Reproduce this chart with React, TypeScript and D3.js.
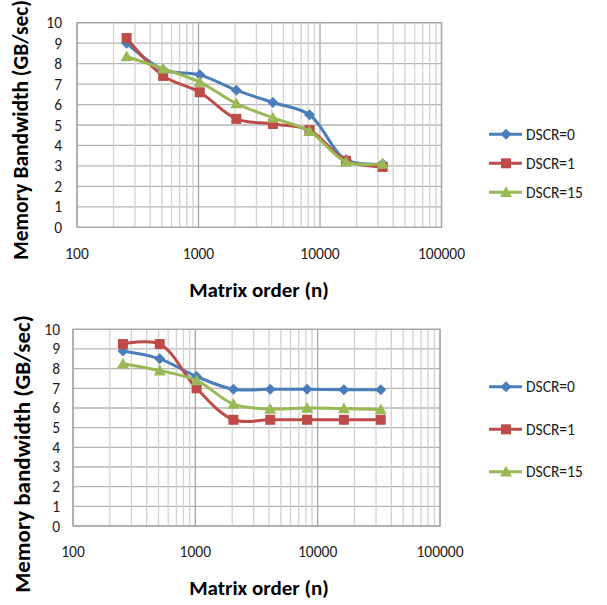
import { useMemo } from "react";
import * as d3 from "d3";

const sizes = [256, 512, 1024, 2048, 4096, 8192, 16384, 32768];
const seriesNames = ["DSCR=0", "DSCR=1", "DSCR=15"];
const colors = ["#4a7ebb", "#be4b48", "#98b954"];
const shapes = ["diamond", "square", "triangle"];

// top chart
const topDscr0 = [9.0, 7.7, 7.45, 6.7, 6.1, 5.5, 3.3, 3.1];
const topDscr1 = [9.25, 7.4, 6.6, 5.3, 5.05, 4.75, 3.25, 2.95];
const topDscr15 = [8.35, 7.75, 7.1, 6.05, 5.35, 4.7, 3.2, 3.1];

// bottom chart
const botDscr0 = [8.9, 8.5, 7.6, 6.95, 6.95, 6.95, 6.93, 6.93];
const botDscr1 = [9.25, 9.25, 7.0, 5.4, 5.4, 5.4, 5.4, 5.4];
const botDscr15 = [8.25, 7.9, 7.4, 6.2, 5.95, 6.0, 5.97, 5.92];

const yTicks = [0, 1, 2, 3, 4, 5, 6, 7, 8, 9, 10];
const xTicks = [100, 1000, 10000, 100000];

const FONT = "Carlito, Calibri, 'Liberation Sans', Arial, sans-serif";

const Marker = ({ shape, x, y, color }) => {
  if (shape === "diamond") {
    const r = 5.5;
    return <path d={`M${x},${y - r}L${x + r},${y}L${x},${y + r}L${x - r},${y}Z`} fill={color} />;
  }
  if (shape === "square") {
    const r = 5;
    return <rect x={x - r} y={y - r} width={r * 2} height={r * 2} fill={color} />;
  }
  const r = 6;
  return <path d={`M${x},${y - r}L${x + r},${y + r * 0.8}L${x - r},${y + r * 0.8}Z`} fill={color} />;
};

const Chart = (props) => {
  const { left, right, top, bottom, series, yTitle, yTitleX, yTitleY, yTitleSize, xTitleY, legendX, legendYs, xLabelY, yLabelX } = props;

  const xScale = useMemo(() => d3.scaleLog().domain([100, 100000]).range([left, right]), [left, right]);
  const yScale = useMemo(() => d3.scaleLinear().domain([0, 10]).range([bottom, top]), [top, bottom]);

  const minor = [];
  for (let d = 100; d < 100000; d *= 10) {
    for (let k = 2; k <= 9; k++) minor.push(d * k);
  }

  const line = d3
    .line()
    .x((d) => xScale(d[0]))
    .y((d) => yScale(d[1]))
    .curve(d3.curveCatmullRom.alpha(0.5));

  return (
    <g fontFamily={FONT}>
      {yTicks.map((t) => (
        <line key={"h" + t} x1={left} x2={right} y1={yScale(t)} y2={yScale(t)} stroke="#b4b4b4" strokeWidth={1.3} />
      ))}
      {minor.map((m) => (
        <line key={"m" + m} x1={xScale(m)} x2={xScale(m)} y1={top} y2={bottom} stroke="#d2d2d2" strokeWidth={1.3} />
      ))}
      {xTicks.map((t) => (
        <line key={"v" + t} x1={xScale(t)} x2={xScale(t)} y1={top} y2={bottom} stroke="#a6a6a6" strokeWidth={1.3} />
      ))}
      <rect x={left} y={top} width={right - left} height={bottom - top} fill="none" stroke="#a6a6a6" strokeWidth={1.3} />
      {yTicks.map((t) => (
        <text key={"yl" + t} x={yLabelX} y={yScale(t)} textAnchor="end" dominantBaseline="central" fontSize={15.5} fill="#1a1a1a">
          {t}
        </text>
      ))}
      {xTicks.map((t) => (
        <text key={"xl" + t} x={xScale(t)} y={xLabelY} textAnchor="middle" dominantBaseline="central" fontSize={15.5} fill="#1a1a1a">
          {t}
        </text>
      ))}
      {series.map((s, i) => (
        <g key={"s" + i}>
          <path d={line(sizes.map((n, j) => [n, s[j]]))} fill="none" stroke={colors[i]} strokeWidth={3} />
          {sizes.map((n, j) => (
            <Marker key={j} shape={shapes[i]} x={xScale(n)} y={yScale(s[j])} color={colors[i]} />
          ))}
        </g>
      ))}
      {seriesNames.map((name, i) => (
        <g key={"lg" + i}>
          <line x1={legendX} x2={legendX + 33} y1={legendYs[i]} y2={legendYs[i]} stroke={colors[i]} strokeWidth={3} />
          <Marker shape={shapes[i]} x={legendX + 17} y={legendYs[i]} color={colors[i]} />
          <text x={legendX + 37} y={legendYs[i]} dominantBaseline="central" fontSize={15.5} fill="#1a1a1a">
            {name}
          </text>
        </g>
      ))}
      <text
        transform={`translate(${yTitleX},${yTitleY}) rotate(-90)`}
        textAnchor="middle"
        dominantBaseline="central"
        fontSize={yTitleSize}
        fontWeight="bold"
        fill="#000"
      >
        {yTitle}
      </text>
      <text x={259} y={xTitleY} textAnchor="middle" dominantBaseline="central" fontSize={21} fontWeight="bold" fill="#000">
        Matrix order (n)
      </text>
    </g>
  );
};

export default function App() {
  return (
    <svg width={607} height={605} style={{ position: "absolute", left: 0, top: 0, background: "#fff" }}>
      <Chart
        left={77}
        right={441.5}
        top={22.7}
        bottom={227.3}
        series={[topDscr0, topDscr1, topDscr15]}
        yTitle="Memory Bandwidth (GB/sec)"
        yTitleX={21}
        yTitleY={130}
        yTitleSize={21.5}
        xTitleY={290}
        xLabelY={253}
        yLabelX={62}
        legendX={489}
        legendYs={[134.3, 163.3, 192.3]}
      />
      <Chart
        left={73}
        right={440}
        top={329.3}
        bottom={526}
        series={[botDscr0, botDscr1, botDscr15]}
        yTitle="Memory bandwidth (GB/sec)"
        yTitleX={22}
        yTitleY={454}
        yTitleSize={23}
        xTitleY={588}
        xLabelY={551}
        yLabelX={60}
        legendX={489}
        legendYs={[386.7, 429.3, 471.7]}
      />
    </svg>
  );
}
